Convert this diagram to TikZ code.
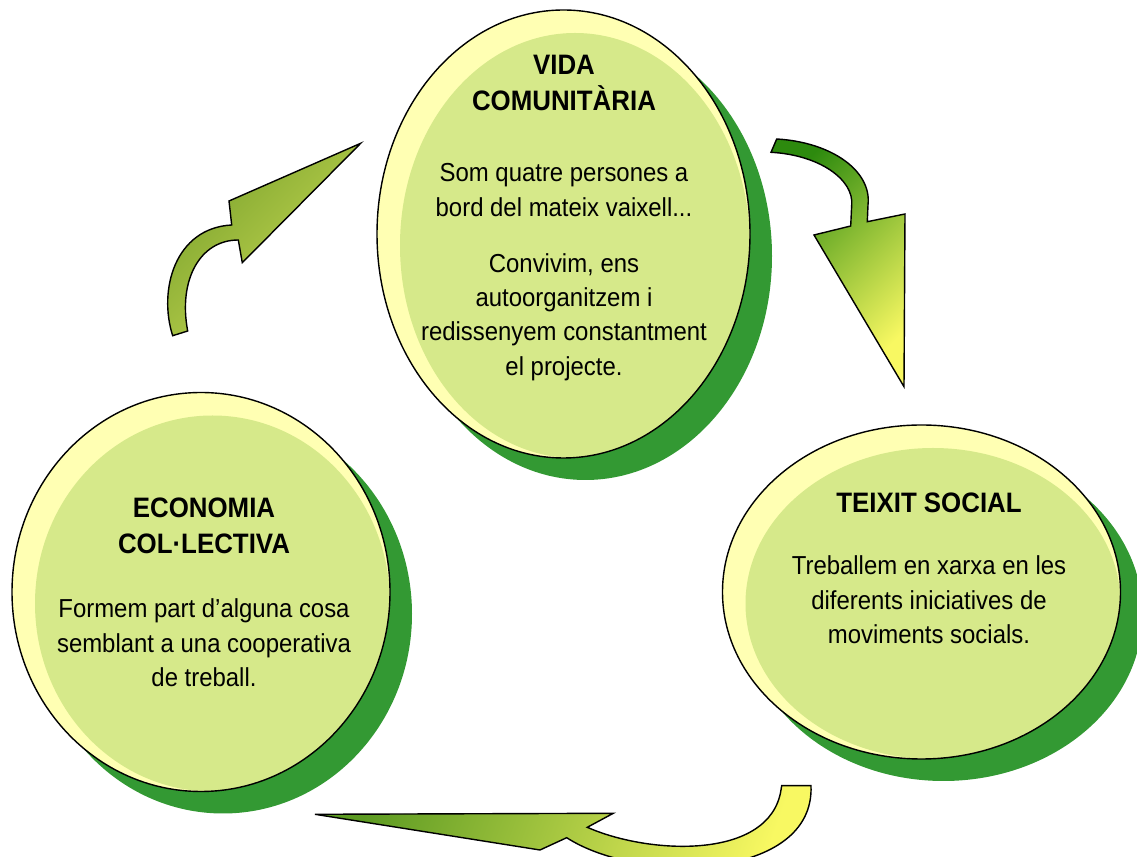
\documentclass[tikz,border=0pt]{standalone}
\usepackage{fontspec}
\setmainfont{Liberation Sans}[FakeStretch=0.92]
\usepackage{tikz}
\definecolor{pale}{HTML}{FFFFB3}
\definecolor{leaf}{HTML}{D6E98A}
\definecolor{dkgreen}{HTML}{339933}
\definecolor{olive}{HTML}{7AA22C}
\definecolor{lime}{HTML}{CADB55}
\definecolor{deep}{HTML}{2D8A0E}
\definecolor{lemon}{HTML}{F8F862}
\definecolor{moss}{HTML}{5C9A22}

\begin{document}
\begin{tikzpicture}[x=0.02cm, y=-0.02cm, line width=0.8pt,
  title/.style={font=\fontsize{16}{20.4}\selectfont\bfseries, align=center},
  body/.style={font=\fontsize{14.8}{19.6}\selectfont, align=center},
  bigarrow/.style 2 args={draw=black, line join=miter, top color=#1, bottom color=#2}]
\useasboundingbox (0,0) rectangle (1137,857);

% bubbles: centre x / centre y / x radius / y radius
\foreach \x/\y/\a/\b in {563.5/234/186.5/224, 201/592/189/199.5, 921.5/592/199/167}{
\fill[dkgreen] (\x+22,\y+22) ellipse [x radius=\a, y radius=\b];
\fill[pale] (\x,\y) ellipse [x radius=\a, y radius=\b];
\begin{scope}
\clip (\x,\y) ellipse [x radius=\a, y radius=\b];
\fill[leaf] (\x+11.5,\y+11.5) ellipse [x radius=\a-11.5, y radius=\b-11.5];
\end{scope}
\draw (\x,\y) ellipse [x radius=\a, y radius=\b];
}

% curved arrows
\path[bigarrow={olive}{lime}, shading angle=45]
  (172.7,335.7) .. controls (158,290) and (175,228) .. (231.7,225) -- (229,201)
  -- (360.7,143.3) -- (242.3,262.7) -- (238.3,240)
  .. controls (200,240) and (178,280) .. (187.7,331) -- cycle;
\path[bigarrow={deep}{lemon}, shading angle=45]
  (776.7,139) .. controls (830,142) and (872,170) .. (868,205) -- (867.3,221.7)
  -- (905,214) -- (904,386.7) -- (814,235) -- (850.7,226) -- (851.7,205)
  .. controls (854,180) and (820,155) .. (771,152.3) -- cycle;
\path[bigarrow={moss}{lemon}, shading angle=70]
  (315,814.3) -- (613.3,813.3) -- (587.3,827.3)
  .. controls (650,855) and (770,860) .. (781,790) -- (781.7,785.7) -- (811,785.7)
  .. controls (815,880) and (640,885) .. (566.7,837.7) -- (540,850) -- cycle;

% texts
\node[title] (vida) at (564,83) {VIDA\\COMUNITÀRIA};
\node[body] (vidaA) at (564,190) {Som quatre persones a\\bord del mateix vaixell...};
\node[body] (vidaB) at (564,317) {Convivim, ens\\autoorganitzem i\\redissenyem constantment\\el projecte.};
\node[title] (econ) at (204,525.5) {ECONOMIA\\COL·LECTIVA};
\node[body] (econA) at (204,643) {Formem part d’alguna cosa\\semblant a una cooperativa\\de treball.};
\node[title] (teixit) at (929,503) {TEIXIT SOCIAL};
\node[body] (teixitA) at (929,600) {Treballem en xarxa en les\\diferents iniciatives de\\moviments socials.};
\end{tikzpicture}
\end{document}
